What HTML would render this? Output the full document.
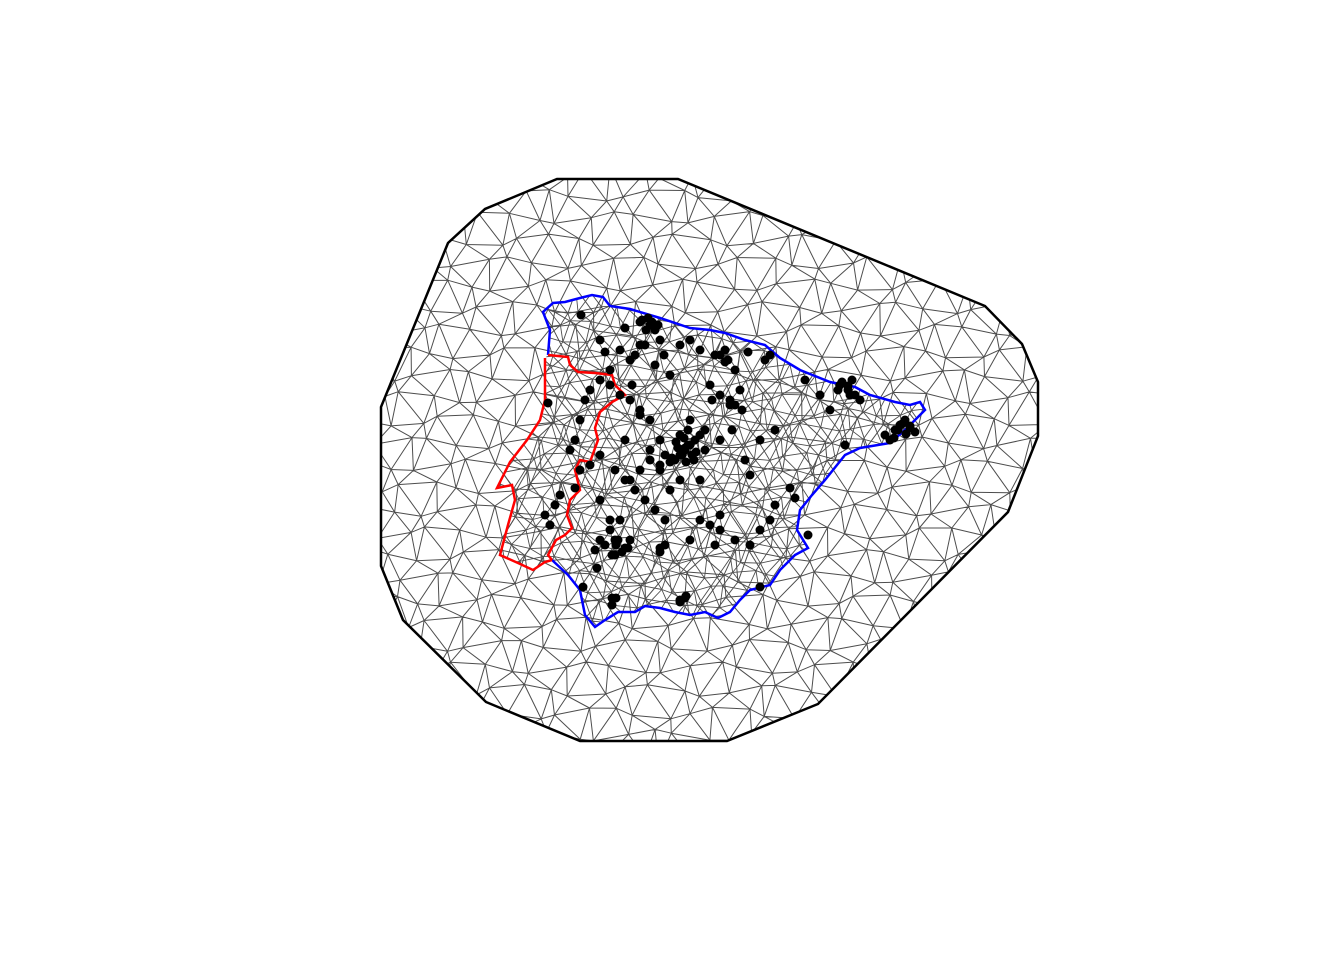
<!DOCTYPE html>
<html><head><meta charset="utf-8"><style>
html,body{margin:0;padding:0;background:#fff;}
svg{display:block;}
</style></head><body>
<svg id="chart" width="1344" height="960" viewBox="0 0 1344 960" xmlns="http://www.w3.org/2000/svg">
<defs>
<clipPath id="clipOuter"><polygon id="clipPoly" points=""/></clipPath>
<clipPath id="clipCountry"><polygon id="clipCountryPoly" points=""/></clipPath>
</defs>
<g id="mesh" clip-path="url(#clipOuter)"></g>
<g id="meshFine" clip-path="url(#clipCountry)"></g>
<polygon id="outer" fill="none" stroke="#000" stroke-width="2.5" points=""/>
<polyline id="spain" fill="none" stroke="#0000ff" stroke-width="2.5" points=""/>
<polyline id="portugal" fill="none" stroke="#ff0000" stroke-width="2.5" points=""/>
<polyline id="portugalInner" fill="none" stroke="#ff0000" stroke-width="2.5" points=""/>
<g id="dots"></g>
</svg>
<script>
const outerPts=[[557,179],[678,179],[985,306],[1022,344],[1038,382],[1038,436],[1008,512],[818,704],[727,741],[580,741],[486,702],[403,620],[381,566],[381,407],[448,243],[485,209]];
const spainPts=[[548,355],[550,330],[543,312],[553,303],[565,302],[580,298],[592,295],[603,297],[610,306],[630,309],[660,318],[690,328],[710,330],[725,333],[745,340],[765,345],[780,358],[800,370],[830,382],[855,387],[870,395],[895,402],[910,405],[920,402],[925,410],[915,420],[905,430],[890,443],[860,448],[845,455],[825,480],[812,495],[800,510],[797,530],[808,548],[795,555],[780,570],[770,585],[750,590],[740,600],[730,612],[718,618],[705,612],[690,615],[675,612],[660,608],[645,606],[635,612],[618,612],[605,620],[595,627],[585,615],[580,590],[568,575],[552,560]];
const portugalPts=[[545,358],[545,400],[540,420],[527,440],[510,462],[497,488],[512,485],[515,500],[508,525],[500,555],[518,563],[533,570],[545,562],[552,560]];
const borderPts=[[552,560],[548,555],[556,540],[565,535],[572,528],[567,515],[570,500],[580,490],[575,470],[580,460],[590,462],[598,440],[595,428],[600,412],[612,402],[625,395],[615,385],[612,375],[595,373],[578,372],[570,365],[568,357],[548,355]];
const dotX=[581,625,640,650,655,660,645,635,620,605,610,630,655,670,680,690,700,715,725,735,748,765,805,820,840,848,855,860,830,885,895,900,905,910,915,890,685,680,690,695,700,705,675,670,665,660,650,640,630,620,610,600,590,585,580,575,570,580,590,600,615,625,635,645,655,665,700,720,735,750,760,770,775,750,745,730,720,710,690,705,680,670,660,650,640,630,620,610,600,595,605,615,625,630,660,665,690,710,720,715,685,680,760,790,795,808,845,850,555,545,550,560,575,600,610,615,682,685,597,640,632,625,650,660,700,770,775,725,730,740,612,548,583,760,
 642,648,652,658,646,688,692,678,684,696,672,686,694,680,676,688,842,848,852,838,898,902,906,894,910,616,622,628,612,618,686,680,616,660,664,720,728,712,735,742,612,640,600,720,732];
const dotY=[315,328,322,325,330,340,345,355,350,352,370,360,365,375,345,340,350,355,362,370,352,360,380,395,385,390,395,400,410,435,430,425,420,428,432,440,450,455,445,440,435,450,460,462,455,440,420,410,400,395,385,380,390,400,420,440,450,470,465,455,470,480,490,500,510,520,520,530,540,545,530,520,505,475,460,400,395,385,420,430,480,490,470,460,470,480,520,530,540,550,545,555,548,540,552,545,540,525,515,545,598,602,440,488,498,535,445,395,505,515,525,495,488,500,520,540,455,448,568,415,385,440,450,465,480,355,430,350,405,390,605,403,587,587,
 320,318,322,325,330,445,455,448,438,452,458,462,460,435,442,430,382,386,380,390,430,424,434,438,426,545,552,548,555,540,596,600,598,548,355,355,360,400,405,410,598,345,340,440,430];
const ptsStr=a=>a.map(p=>p[0]+','+p[1]).join(' ');
document.getElementById('outer').setAttribute('points',ptsStr(outerPts));
document.getElementById('clipPoly').setAttribute('points',ptsStr(outerPts));
document.getElementById('clipCountryPoly').setAttribute('points',ptsStr(spainPts.concat(portugalPts.slice().reverse())));
document.getElementById('spain').setAttribute('points',ptsStr(spainPts));
document.getElementById('portugal').setAttribute('points',ptsStr(portugalPts));
document.getElementById('portugalInner').setAttribute('points',ptsStr(borderPts));
const NS='http://www.w3.org/2000/svg';
function lattice(x0,y0,sp,n,a,b){
 const h=sp*0.866,grid=[];
 for(let r=0;r<n;r++){grid[r]=[];for(let c=0;c<n;c++){
  let x=x0+c*sp+(r%2?sp/2:0),y=y0+r*h;
  x+=a*Math.sin(r*1.7+c*2.3);y+=b*Math.cos(r*2.9+c*1.3);
  grid[r][c]=[x,y];}}
 let d='';
 const seg=(p,q)=>{d+='M'+p[0].toFixed(1)+' '+p[1].toFixed(1)+'L'+q[0].toFixed(1)+' '+q[1].toFixed(1);};
 for(let r=0;r<n;r++)for(let c=0;c<n;c++){
  const p=grid[r][c];
  if(c<n-1)seg(p,grid[r][c+1]);
  if(r<n-1){
   if(r%2===0){seg(p,grid[r+1][c]);if(c>0)seg(p,grid[r+1][c-1]);}
   else{seg(p,grid[r+1][c]);if(c<n-1)seg(p,grid[r+1][c+1]);}
  }
 }
 return d;
}
const mesh=document.getElementById('mesh');
const path=document.createElementNS(NS,'path');


path.setAttribute('d',lattice(340,150,26,36,7,6));path.setAttribute('stroke','#4d4d4d');path.setAttribute('stroke-width','1');path.setAttribute('fill','none');
mesh.appendChild(path);
const meshFine=document.getElementById('meshFine');
const path2=document.createElementNS(NS,'path');


path2.setAttribute('d',lattice(480,280,17,28,4,4));path2.setAttribute('stroke','#4d4d4d');path2.setAttribute('stroke-width','0.9');path2.setAttribute('fill','none');
meshFine.appendChild(path2);
const dots=document.getElementById('dots');
for(let i=0;i<dotX.length;i++){
 const c=document.createElementNS(NS,'circle');
 
 
 c.setAttribute('cx',dotX[i]);c.setAttribute('cy',dotY[i]);c.setAttribute('r',4.5);c.setAttribute('fill','#000');
 dots.appendChild(c);
}
</script>
</body></html>
